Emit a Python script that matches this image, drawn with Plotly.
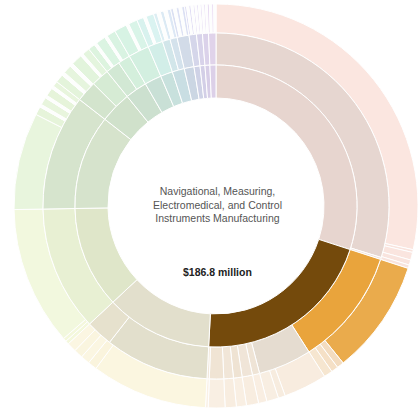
import plotly.graph_objects as go

# ---- data (values in $ million) ----
inner_values = [269.0, 186.8, 109.6, 104.6, 97.1, 32.4, 22.4, 17.4, 12.5, 12.5, 10.0, 6.2, 5.0, 5.0, 6.2]

middle_values = [267.3, 1.7,
                 98.4, 44.6, 6.0, 8.7, 7.2, 8.0, 12.0, 1.9,
                 87.2, 22.4,
                 104.6,
                 97.1,
                 17.4, 15.0,
                 12.0, 10.4,
                 17.4,
                 12.5,
                 6.5, 6.0,
                 10.0,
                 6.2, 5.0, 5.0, 6.2]

outer_values = [255.3, 2.0, 5.5, 3.7, 2.5,
                82.2, 5.0, 5.0, 6.2, 31.1, 5.0, 8.5, 6.0, 8.7, 7.2, 8.0, 12.0, 1.9,
                83.4, 6.5, 6.5, 6.5, 6.7,
                2.5, 2.5, 99.6,
                69.7, 6.0, 2.0, 5.5, 2.0, 6.0, 2.0, 3.9,
                6.0, 2.5, 6.0, 2.5, 8.0, 2.0, 5.4,
                5.0, 2.0, 7.0, 2.0, 6.4,
                9.0, 2.0, 6.4,
                5.0, 2.0, 5.5,
                2.5, 2.5, 2.5, 2.5, 2.5,
                2.0, 2.0, 2.0, 2.0, 2.0,
                1.5, 1.6, 1.5, 1.6,
                1.2, 1.3, 1.2, 1.3,
                1.2, 1.3, 1.2, 1.3,
                1.5, 1.6, 1.5, 1.6]

center_name = "Navigational, Measuring,<br>Electromedical, and Control<br>Instruments Manufacturing"
center_value = "$186.8 million"

# ---- styles ----
WH = "#fdfefd"
inner_colors = ["#e7d5cf", "#744a0c", "#e2dfcc", "#dfe6c9", "#d6e3cc", "#d0e1cb", "#cce0cf",
                "#c9e0d6", "#c8e1dd", "#c9dee3", "#cbd6e3", "#cfd2e6", "#d3cfe7", "#d7cee7", "#dcd0e8"]

middle_colors = ["#e6d6d0", "#efe0da",
                 "#e9a43c", "#e5dcd0", "#efe4d6", "#f0e5d8", "#efe3d3", "#f1e6d8", "#f0e4d4", "#f2e8dc",
                 "#e2dfcc", "#e6e1cd",
                 "#e8f0d3",
                 "#d6e4cd",
                 "#d3e4cd", "#d6ebd4",
                 "#d2e8d4", "#d4efdc",
                 "#d3efe0",
                 "#d2eee8",
                 "#d2e6ea", "#d4e2ec",
                 "#d2dbe8",
                 "#d5d6ea", "#d8d3ea", "#dbd2ea", "#e0d3ea"]

outer_colors = ["#fbe6e0", "#f9e4de", "#fae5df", "#f9e4de", "#f8e3dd",
                "#eaab4c", "#f3dcc0", "#f5e0c6", "#f6e6d0", "#f8ecdf", "#f7ecdf", "#f8eee2",
                "#f9eee2", "#f8ede0", "#f9efe3", "#f8ede0", "#f9efe3", "#faf1e6",
                "#fbf6e0", "#faf4dd", "#fbf6e2", "#faf5df", "#fbf6e2",
                "#f4f8dc", "#f4f8dc", "#f2f8de",
                "#e8f5dd", "#e6f4da", WH, "#e8f5dd", WH, "#e6f4da", WH, "#e8f5dd",
                "#e4f4db", WH, "#e6f5de", WH, "#e2f4dc", WH, "#e4f5de",
                "#ddf4df", WH, "#dbf4e2", WH, "#d9f3e2",
                "#d7f3e4", WH, "#d9f4e8",
                "#d8f2ee", WH, "#daf3f1",
                "#dceef3", WH, "#dbeaf4", WH, "#dde8f5",
                "#dae0f2", WH, "#dde2f4", WH, "#dbe0f3",
                "#dfdef4", WH, "#e0ddf4", WH,
                "#e3dcf4", WH, "#e4dcf4", WH,
                "#e6dcf4", WH, "#e7dcf4", WH,
                "#e9dcf3", WH, "#eadcf3", WH]

W, H = 420, 410
CX, CY = 216, 206          # centre in pixels (from top-left)
R_HOLE, R1, R2, R3 = 108, 141, 173, 202


def domain(r):
    return dict(x=[(CX - r) / W, (CX + r) / W],
                y=[(H - CY - r) / H, (H - CY + r) / H])


def ring(values, colors, r_in, r_out):
    return go.Pie(values=values, marker=dict(colors=colors, line=dict(color="white", width=1)),
                  hole=r_in / r_out, domain=domain(r_out), sort=False,
                  direction="clockwise", rotation=0, textinfo="none",
                  hoverinfo="skip", showlegend=False)


fig = go.Figure([
    ring(outer_values, outer_colors, R2, R3),
    ring(middle_values, middle_colors, R1, R2),
    ring(inner_values, inner_colors, R_HOLE, R1),
])

fig.add_annotation(x=(CX + 1) / W, y=(H - 204) / H, xref="paper", yref="paper",
                   text=center_name, showarrow=False, align="center",
                   font=dict(family="Liberation Sans, Arial", size=10.5, color="#555555"))
fig.add_annotation(x=(CX + 1) / W, y=(H - 272) / H, xref="paper", yref="paper",
                   text="<b>" + center_value + "</b>", showarrow=False,
                   font=dict(family="Liberation Sans, Arial", size=10.5, color="#222222"))

fig.update_layout(width=W, height=H, margin=dict(l=0, r=0, t=0, b=0),
                  paper_bgcolor="white", plot_bgcolor="white")

fig.write_html("out.html", config={"displayModeBar": False},
               post_script="document.body.style.margin='0px';")
